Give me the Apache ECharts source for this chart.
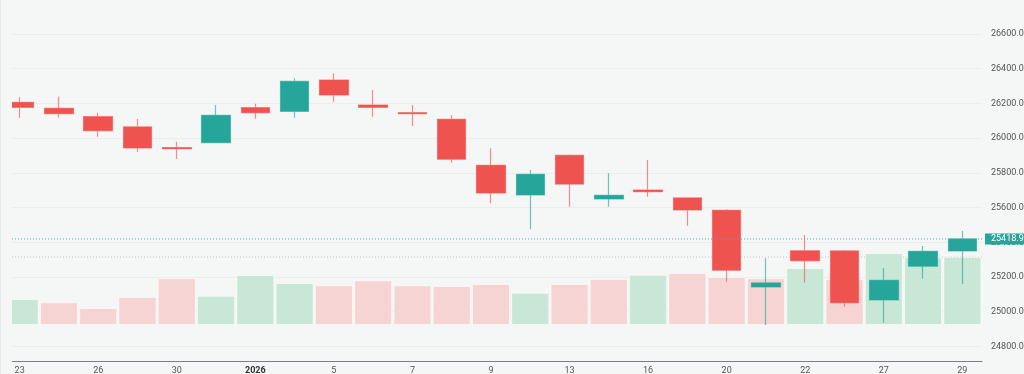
<!DOCTYPE html>
<html><head><meta charset="utf-8">
<script src="https://cdn.jsdelivr.net/npm/echarts@6/dist/echarts.min.js"></script>
<style>html,body{margin:0;padding:0;background:#f5f7f6}#c{width:1024px;height:374px}</style>
</head><body><div id="c"></div>
<script>
const dates = ['2025-12-23','2025-12-24','2025-12-26','2025-12-29','2025-12-30','2025-12-31','2026-01-01','2026-01-02','2026-01-05','2026-01-06','2026-01-07','2026-01-08','2026-01-09','2026-01-12','2026-01-13','2026-01-14','2026-01-16','2026-01-19','2026-01-20','2026-01-21','2026-01-22','2026-01-23','2026-01-27','2026-01-28','2026-01-29'];
const opens  = [26206,26171,26123,26064,25945,25973,26175,26154,26334,26190,26146,26108,25843,25672,25901,25649,25701,25655,25584,25143,25351,25350,25068,25262,25350];
const closes = [26177,26140,26042,25943,25939,26131,26146,26327,26248,26177,26140,25878,25684,25791,25735,25670,25691,25586,25239,25166,25294,25052,25181,25348,25418.9];
const lows   = [26117,26119,26008,25921,25879,25970,26111,26117,26209,26123,26069,25858,25624,25475,25605,25605,25662,25495,25173,24924,25169,25029,24937,25190,25160];
const highs  = [26235,26238,26146,26110,25979,26190,26198,26344,26373,26277,26190,26133,25941,25816,25905,25797,25874,25657,25590,25308,25442,25355,25252,25378,25465];
const volumes = [104,91,68,112,187,117,200,168,159,179,159,156,164,129,164,184,201,208,192,187,228,184,288,271,273];
const prevClose = 26160;
const lastPrice = 25418.90;
const refLevel = 25315;
const priceMin = 24600, priceMax = 26800, priceStep = 200;

const BG = '#f5f7f6';
const UP = '#26a69a', DOWN = '#ef5350';
const VOL_UP = '#c9e7d6', VOL_DOWN = '#f6d4d3';

const candleData = dates.map((d, i) => [opens[i], closes[i], lows[i], highs[i]]);
const volData = volumes.map((v, i) => {
  const pc = i === 0 ? prevClose : closes[i - 1];
  return { value: v, itemStyle: { color: closes[i] >= pc ? VOL_UP : VOL_DOWN } };
});

const chart = echarts.init(document.getElementById('c'), null, { renderer: 'canvas' });
chart.setOption({
  animation: false,
  backgroundColor: BG,
  grid: [
    { left: 0, right: 42, top: -0.9, bottom: -7.2, outerBoundsMode: 'none' },
    { left: 0, right: 42, top: 225, bottom: 13, outerBoundsMode: 'none' }
  ],
  xAxis: [
    { type: 'category', gridIndex: 0, data: dates, boundaryGap: true, show: false },
    { type: 'category', gridIndex: 1, data: dates, boundaryGap: true,
      axisLine: { onZero: false, lineStyle: { color: '#7c7f88', width: 1 } },
      axisTick: { show: false },
      splitLine: { show: false },
      axisLabel: {
        interval: 1, margin: 5, fontSize: 9, color: '#555', fontFamily: 'Roboto',
        formatter: function (v) {
          if (v.endsWith('-01-01')) return '{y|' + v.slice(0, 4) + '}';
          return String(parseInt(v.slice(8), 10));
        },
        rich: { y: { fontWeight: 'bold', color: '#333', fontSize: 9, fontFamily: 'Roboto' } }
      }
    },
    { type: 'value', gridIndex: 0, min: 0, max: 1, show: false, splitLine: { show: false } }
  ],
  yAxis: [
    { type: 'value', gridIndex: 0, position: 'right', min: priceMin, max: priceMax, interval: priceStep,
      splitLine: { lineStyle: { color: '#eceeed', width: 1 } },
      axisLine: { show: false }, axisTick: { show: false },
      axisLabel: { margin: 9, fontSize: 9, color: '#555', fontFamily: 'Roboto', showMinLabel: false, showMaxLabel: false,
        formatter: v => v.toFixed(2) }
    },
    { type: 'value', gridIndex: 1, min: -144, max: 400, show: false, splitLine: { show: false } }
  ],
  series: [
    { type: 'bar', xAxisIndex: 1, yAxisIndex: 1, data: volData, barWidth: 38,
      itemStyle: { borderColor: 'rgba(255,255,255,0.55)', borderWidth: 1 } },
    { type: 'line', xAxisIndex: 2, yAxisIndex: 0, data: [[0, refLevel], [1, refLevel]], symbol: 'none', silent: true,
      lineStyle: { color: '#c3c8c7', type: [1, 2], width: 1 }, z: 1 },
    { type: 'candlestick', xAxisIndex: 0, yAxisIndex: 0, data: candleData, barWidth: 29,
      itemStyle: {
        color: UP, color0: DOWN,
        borderColor: 'rgba(38,166,154,0.65)', borderColor0: 'rgba(239,83,80,0.65)', borderWidth: 1.2
      }
    },
    { type: 'line', xAxisIndex: 2, yAxisIndex: 0, data: [[0, lastPrice], [1, lastPrice]], symbol: 'none', silent: true,
      lineStyle: { color: '#3fb3a8', type: [1, 2], width: 1 }, itemStyle: { color: UP }, z: 3,
      endLabel: { show: true, formatter: () => lastPrice.toFixed(2), backgroundColor: UP, color: '#fff',
        fontSize: 9, lineHeight: 10, fontFamily: 'Roboto', padding: [1, 3, 0, 6], distance: 3 }
    }
  ],
  graphic: [
    { type: 'rect', shape: { x: 0, y: 0, width: 12, height: 374 }, style: { fill: BG }, z: 100 },
    { type: 'rect', shape: { x: 0, y: 0, width: 1, height: 374 }, style: { fill: '#e8ebeb' }, z: 101 }
  ]
});
</script></body></html>
